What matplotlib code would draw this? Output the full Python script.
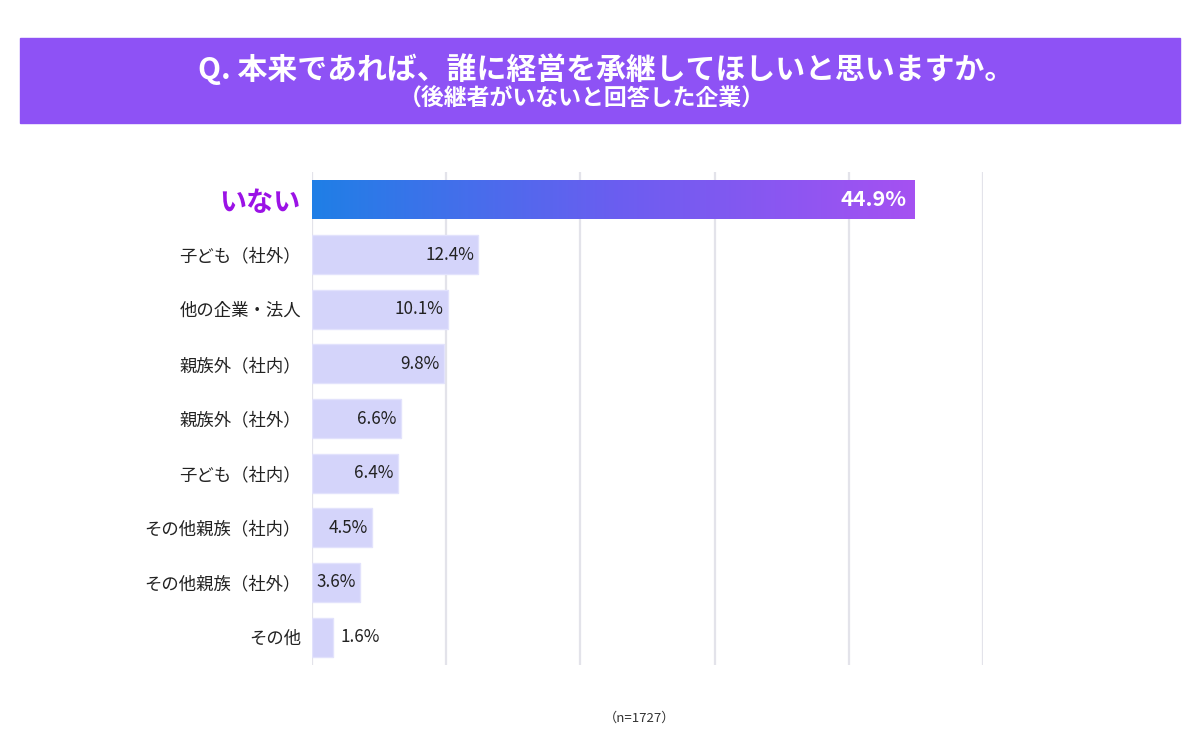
import numpy as np
import matplotlib
matplotlib.use("Agg")
import matplotlib.pyplot as plt
from matplotlib.colors import LinearSegmentedColormap
from matplotlib.patches import Rectangle

plt.rcParams['font.family'] = ['Noto Sans CJK JP', 'DejaVu Sans']

labels = ["いない", "子ども（社外）", "他の企業・法人", "親族外（社内）", "親族外（社外）",
          "子ども（社内）", "その他親族（社内）", "その他親族（社外）", "その他"]
values = [44.9, 12.4, 10.1, 9.8, 6.6, 6.4, 4.5, 3.6, 1.6]
title = "Q. 本来であれば、誰に経営を承継してほしいと思いますか。"
subtitle = "（後継者がいないと回答した企業）"
note = "（n=1727）"

fig = plt.figure(figsize=(12, 7.42), dpi=100)

# title banner
fig.patches.append(Rectangle((20 / 1200, 1 - 123 / 742), 1160 / 1200, 85 / 742,
                             transform=fig.transFigure, color="#8E52F5", zorder=0))
fig.text(0.505, 1 - 69 / 742, title, ha="center", va="center", color="white",
         fontsize=21.5, fontweight="bold")
fig.text(0.485, 1 - 98 / 742, subtitle, ha="center", va="center", color="white",
         fontsize=16.5, fontweight="bold")

ax = fig.add_axes([312 / 1200, 1 - 665 / 742, 671 / 1200, 493 / 742])
y = np.arange(len(values))
bars = ax.barh(y, values, height=0.71, color="#D4D4FA", edgecolor="#E2E2FC", linewidth=1, zorder=2)

# gradient for the top bar
top = bars[0]
cmap = LinearSegmentedColormap.from_list("g", ["#1F7FE6", "#6A5EF0", "#A551F2"])
grad = np.linspace(0, 1, 256).reshape(1, -1)
x0, y0, w, h = top.get_x(), top.get_y(), top.get_width(), top.get_height()
im = ax.imshow(grad, cmap=cmap, extent=(x0, x0 + w, y0 + h, y0), aspect="auto", zorder=3)
top.set_facecolor("none")
top.set_edgecolor("none")

ax.set_xlim(0, 50)
ax.set_ylim(len(values) - 0.49, -0.51)
ax.set_xticks([0, 10, 20, 30, 40, 50])
ax.grid(axis="x", color="#E3E3EA", linewidth=1.6, zorder=0)
ax.set_axisbelow(True)
for s in ax.spines.values():
    s.set_visible(False)
ax.tick_params(axis="x", length=0, labelbottom=False)
ax.tick_params(axis="y", length=0, pad=8)
ax.set_yticks(y)
ax.set_yticklabels(labels, fontsize=12.5, color="#222222")
lab0 = ax.get_yticklabels()[0]
lab0.set_color("#9B12E6")
lab0.set_fontsize(19.5)
lab0.set_fontweight("bold")

for i, v in enumerate(values):
    if i == 0:
        ax.text(v - 0.6, i, f"{v}%", ha="right", va="center", color="white",
                fontsize=15.5, fontweight="bold", zorder=4)
    elif v < 3:
        ax.text(v + 0.5, i, f"{v}%", ha="left", va="center", color="#222222",
                fontsize=12.3, zorder=4)
    else:
        ax.text(v - 0.3, i, f"{v}%", ha="right", va="center", color="#222222",
                fontsize=12.3, zorder=4)

fig.text(640 / 1200, 1 - 718 / 742, note, ha="center", va="center", fontsize=9.5, color="#333333")

fig.savefig("out.png", dpi=100)
